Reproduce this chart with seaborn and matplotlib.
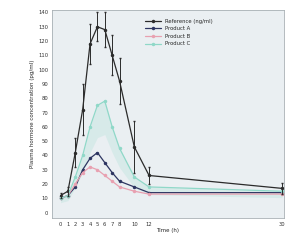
import matplotlib
matplotlib.use("Agg")
import matplotlib.pyplot as plt
import seaborn as sns
import pandas as pd

sns.set_theme(style="white")
plt.rcParams['font.family'] = ['DejaVu Sans']

# sampling times (h)
time_h = [0, 1, 2, 3, 4, 5, 6, 7, 8, 10, 12, 30]
x_ticks = [0, 1, 2, 3, 4, 5, 6, 7, 8, 10, 12, 30]

# concentrations
reference = [12, 15, 42, 72, 118, 130, 128, 110, 92, 46, 26, 17]
reference_err = [2, 3, 10, 18, 14, 10, 12, 14, 16, 18, 6, 4]
product_a = [10, 12, 18, 30, 38, 42, 35, 28, 22, 18, 14, 14]
product_b = [10, 12, 20, 28, 32, 30, 26, 22, 18, 15, 13, 13]
product_c = [10, 12, 25, 40, 60, 75, 78, 60, 45, 25, 18, 15]

labels = ["Reference (ng/ml)", "Product A", "Product B", "Product C"]
colors = ["#2b2b2b", "#2d3561", "#e8a0b0", "#8fd8c8"]

df = pd.DataFrame({"time": time_h, labels[0]: reference, labels[1]: product_a,
                   labels[2]: product_b, labels[3]: product_c})
long = df.melt(id_vars="time", var_name="series", value_name="conc")

fig, ax = plt.subplots(figsize=(2.87, 2.40), dpi=100)
fig.subplots_adjust(left=0.18, right=0.99, bottom=0.09, top=0.96)
ax.set_facecolor("#eaeff2")

# light band under the teal curve
ax.fill_between(time_h, [v * 0.7 for v in product_c], product_c,
                color="#8fd8c8", alpha=0.2, lw=0)

sns.lineplot(data=long, x="time", y="conc", hue="series", palette=colors,
             hue_order=labels, marker="o", markersize=2.5, linewidth=0.9,
             markeredgewidth=0, ax=ax)
ax.errorbar(time_h, reference, yerr=reference_err, fmt="none",
            ecolor="#2b2b2b", elinewidth=0.7, capsize=1)

ax.set_xlim(-1.2, 30.3)
ax.set_ylim(-4, 142)
ax.set_xticks(x_ticks)
ax.set_yticks(range(0, 141, 10))
ax.tick_params(labelsize=3.8, length=1.5, pad=1, colors="#333333")
for s in ax.spines.values():
    s.set_color("#a8b0b4")
    s.set_linewidth(0.6)
ax.set_xlabel("Time (h)", fontsize=4, labelpad=1)
ax.set_ylabel("Plasma hormone concentration (pg/ml)", fontsize=4, labelpad=2)
leg = ax.legend(title=None, fontsize=3.8, loc="upper left",
                bbox_to_anchor=(0.38, 0.98), frameon=False, handlelength=3)

fig.savefig("out.png", dpi=100)
